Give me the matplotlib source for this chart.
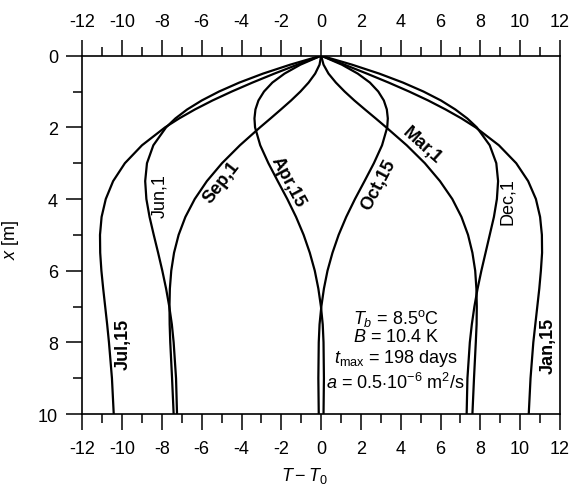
import matplotlib
matplotlib.use("Agg")
import matplotlib.pyplot as plt
from matplotlib.ticker import MultipleLocator

plt.rcParams['font.family'] = ['Liberation Sans', 'DejaVu Sans']
plt.rcParams['mathtext.fontset'] = 'custom'
plt.rcParams['mathtext.rm'] = 'Liberation Sans'
plt.rcParams['mathtext.it'] = 'Liberation Sans:italic'
plt.rcParams['mathtext.bf'] = 'Liberation Sans:bold'
plt.rcParams['axes.unicode_minus'] = False

# depth [m]
depth = [0, 0.25, 0.5, 0.75, 1, 1.25, 1.5, 1.75, 2, 2.5, 3, 3.5, 4, 4.5,
         5, 5.5, 6, 6.5, 7, 7.5, 8, 9, 10]

# T - T0 profiles
jul15 = [0, -1.19, -2.35, -3.45, -4.49, -5.46, -6.34, -7.13, -7.84, -9.00, -9.86,
         -10.45, -10.82, -11.03, -11.11, -11.10, -11.04, -10.95, -10.85, -10.75,
         -10.66, -10.51, -10.42]
jan15 = [0, 1.17, 2.30, 3.39, 4.42, 5.38, 6.25, 7.05, 7.76, 8.93, 9.80, 10.40,
         10.79, 11.00, 11.09, 11.10, 11.04, 10.96, 10.86, 10.76, 10.66, 10.52, 10.43]
jun1 = [0, -1.55, -2.92, -4.11, -5.13, -6.00, -6.73, -7.32, -7.79, -8.43, -8.75,
        -8.84, -8.78, -8.62, -8.41, -8.19, -7.98, -7.79, -7.63, -7.50, -7.41,
        -7.29, -7.24]
dec1 = [0, 1.55, 2.92, 4.11, 5.14, 6.02, 6.74, 7.34, 7.82, 8.47, 8.80, 8.89,
        8.83, 8.68, 8.47, 8.26, 8.05, 7.86, 7.70, 7.57, 7.47, 7.35, 7.31]
sep1 = [0, -0.08, -0.30, -0.63, -1.04, -1.51, -2.02, -2.54, -3.07, -4.08, -4.98,
        -5.74, -6.35, -6.82, -7.16, -7.39, -7.53, -7.60, -7.62, -7.61, -7.58,
        -7.49, -7.41]
mar1 = [0, 0.12, 0.37, 0.74, 1.18, 1.67, 2.20, 2.74, 3.27, 4.30, 5.21, 5.97,
        6.59, 7.05, 7.38, 7.60, 7.74, 7.80, 7.82, 7.81, 7.77, 7.68, 7.60]
apr15 = [0, -1.04, -1.84, -2.45, -2.87, -3.15, -3.30, -3.35, -3.32, -3.06, -2.65,
         -2.18, -1.70, -1.26, -0.88, -0.57, -0.32, -0.14, -0.01, 0.08, 0.12,
         0.14, 0.12]
oct15 = [0, 1.04, 1.84, 2.45, 2.87, 3.15, 3.30, 3.35, 3.32, 3.06, 2.65, 2.18,
         1.70, 1.26, 0.88, 0.57, 0.32, 0.14, 0.01, -0.08, -0.12, -0.14, -0.12]

series = [jul15, jan15, jun1, dec1, sep1, mar1, apr15, oct15]

# curve labels: text, T, x, rotation, bold
labels = [("Jun,1", -8.1, 3.9, 90, False),
          ("Sep,1", -4.98, 3.53, 52, True),
          ("Apr,15", -1.66, 3.5, -62, True),
          ("Oct,15", 2.9, 3.6, 62, True),
          ("Mar,1", 5.05, 2.49, -42, True),
          ("Dec,1", 9.36, 4.04, 90, False),
          ("Jul,15", -9.96, 8.02, 90, True),
          ("Jan,15", 11.42, 8.06, 90, True)]

params = [r"$T_b$ = 8.5$^{\rm o}$C",
          r"$B$ = 10.4 K",
          r"$t_{\rm max}$ = 198 days",
          r"$a$ = 0.5$\cdot$10$^{-6}$ m$^2$/s"]
param_y = [7.3, 7.85, 8.41, 9.11]

FS = 13

fig = plt.figure(figsize=(5.73, 4.85), dpi=100)
ax = fig.add_axes([0.1436, 0.1443, 0.9773 - 0.1436, 0.8831 - 0.1443])

for s in series:
    ax.plot(s, depth, color='black', lw=1.6, solid_joinstyle='round')

ax.set_xlim(-12, 12)
ax.set_ylim(10, 0)
ax.xaxis.set_major_locator(MultipleLocator(2))
ax.xaxis.set_minor_locator(MultipleLocator(1))
ax.yaxis.set_major_locator(MultipleLocator(2))
ax.yaxis.set_minor_locator(MultipleLocator(1))
ax.tick_params(axis='x', which='both', direction='out', top=True, bottom=True,
               labeltop=True, labelbottom=True)
ax.tick_params(axis='y', which='both', direction='out', left=True, right=False)
ax.tick_params(which='major', length=11.5, width=1.1, labelsize=FS, pad=7)
ax.tick_params(which='minor', length=6.5, width=1.1)
ax.tick_params(axis='y', which='major', pad=6)
for sp in ax.spines.values():
    sp.set_linewidth(1.2)

for txt, t, x, rot, bold in labels:
    ax.text(t, x, txt, rotation=rot, ha='center', va='center', fontsize=FS,
            fontweight='bold' if bold else 'normal', rotation_mode='anchor')

for txt, y in zip(params, param_y):
    ax.text(3.75, y, txt, ha='center', va='center', fontsize=FS)

ax.set_xlabel(r"$T - T_0$", fontsize=FS)
ax.xaxis.set_label_coords(0.466, -0.143)
ax.set_ylabel(r"$x$ [m]", fontsize=FS)
ax.yaxis.set_label_coords(-0.128, 0.49)

fig.savefig("out.png", dpi=100)
